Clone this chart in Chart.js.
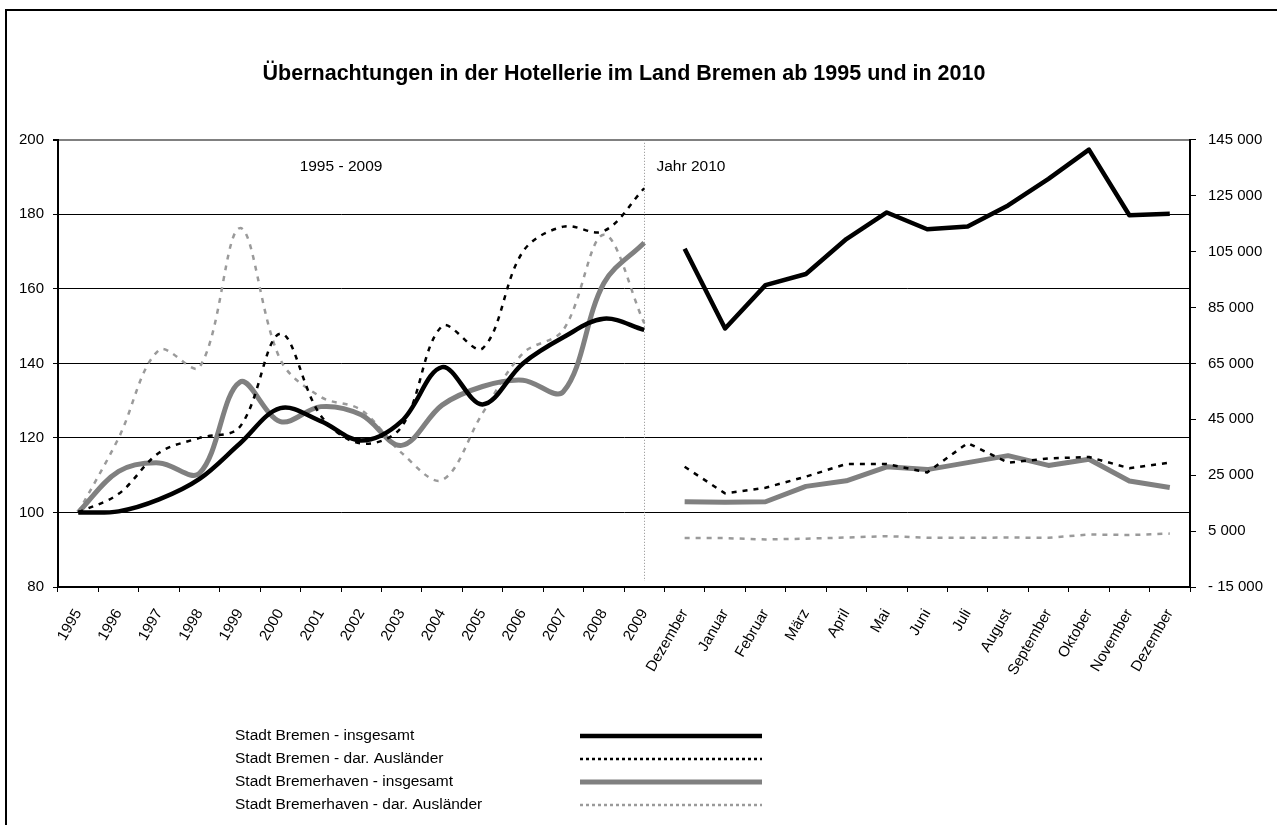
<!DOCTYPE html>
<html>
<head>
<meta charset="utf-8">
<script src="https://cdn.jsdelivr.net/npm/chart.js@4.4.0/dist/chart.umd.min.js"></script>
<style>
  html, body { margin: 0; padding: 0; background: #fff; overflow: hidden; }
  #wrap { position: relative; width: 1277px; height: 825px; }
  #frame { position: absolute; left: 5px; top: 9px; width: 1300px; height: 900px;
           border-left: 2px solid #000; border-top: 2px solid #000; pointer-events: none; }
</style>
</head>
<body>
<div id="wrap">
  <canvas id="chart" width="1277" height="825"></canvas>
  <div id="frame"></div>
</div>
<script>
// categories
const years = ["1995", "1996", "1997", "1998", "1999", "2000", "2001", "2002",
               "2003", "2004", "2005", "2006", "2007", "2008", "2009"];
const months = ["Dezember", "Januar", "Februar", "März", "April", "Mai", "Juni",
                "Juli", "August", "September", "Oktober", "November", "Dezember"];

// 1995 - 2009, index 1995 = 100 (left axis)
const bremenTotalIdx = [100, 100.3, 103.5, 109, 118.5, 128, 124.5, 119.3, 124.5, 139, 129, 140, 147, 152, 149];
const bremenForeignIdx = [100, 105, 116, 120, 123, 148, 126, 118.5, 123, 150, 144, 170, 176.7, 175.5, 187];
const bhvTotalIdx = [100, 111, 113.3, 110.5, 135, 124.4, 128.4, 126.2, 118, 128.8, 133.8, 135.5, 132.4, 161.5, 172.4];
const bhvForeignIdx = [100, 120, 143.6, 139, 176.3, 141, 131, 127.5, 116, 108.7, 126.6, 142.7, 149, 174.5, 150.8];

// Dezember 2009 - Dezember 2010, Übernachtungen (right axis)
const bremenTotalMonth = [106000, 77500, 93000, 97000, 109500, 119000, 113000, 114000, 121500, 131000, 141500, 118000, 118500];
const bremenForeignMonth = [28000, 18500, 20500, 24500, 29000, 29000, 26000, 36500, 29500, 31000, 31500, 27500, 29500];
const bhvTotalMonth = [15500, 15300, 15500, 21000, 23000, 28000, 27000, 29500, 32000, 28500, 30700, 22900, 20600];
const bhvForeignMonth = [2500, 2500, 2000, 2300, 2700, 3200, 2600, 2600, 2700, 2600, 3800, 3600, 4100];

const seriesNames = ["Stadt Bremen - insgesamt", "Stadt Bremen - dar. Ausländer",
                     "Stadt Bremerhaven - insgesamt", "Stadt Bremerhaven - dar. Ausländer"];

const labels = years.concat(months);
const gapLeft = years.map(() => null);
const gapRight = months.map(() => null);

const styles = [
  { borderColor: "#000000", borderWidth: 4.5, borderDash: [] },
  { borderColor: "#000000", borderWidth: 2.5, borderDash: [5, 6] },
  { borderColor: "#808080", borderWidth: 5, borderDash: [] },
  { borderColor: "#9a9a9a", borderWidth: 2.5, borderDash: [5, 6] },
];
const legendDash = [[], [3, 3], [], [3, 3]];

const idxSeries = [bremenTotalIdx, bremenForeignIdx, bhvTotalIdx, bhvForeignIdx];
const monthSeries = [bremenTotalMonth, bremenForeignMonth, bhvTotalMonth, bhvForeignMonth];

const datasets = [];
idxSeries.forEach((vals, i) => {
  datasets.push(Object.assign({
    label: seriesNames[i],
    data: vals.concat(gapRight),
    yAxisID: "y",
    tension: 0.35,
    pointRadius: 0,
    borderJoinStyle: "round",
    legendDash: legendDash[i],
  }, styles[i]));
});
monthSeries.forEach((vals, i) => {
  datasets.push(Object.assign({
    label: seriesNames[i],
    data: gapLeft.concat(vals),
    yAxisID: "y2",
    tension: 0,
    pointRadius: 0,
    borderJoinStyle: "round",
  }, styles[i]));
});

const fmt = v => (v < 0 ? "- " : "") + Math.abs(v).toString().replace(/\B(?=(\d{3})+(?!\d))/g, " ");

// dotted separator between the two periods + period captions
const periodMarks = {
  id: "periodMarks",
  beforeDatasetsDraw(chart) {
    const { ctx, chartArea, scales } = chart;
    const x = Math.round(scales.x.getPixelForValue(years.length - 1)) + 0.5;
    ctx.save();
    ctx.strokeStyle = "#8c8c8c";
    ctx.lineWidth = 1;
    ctx.setLineDash([1, 2]);
    ctx.beginPath();
    ctx.moveTo(x, chartArea.top);
    ctx.lineTo(x, chartArea.bottom - 6);
    ctx.stroke();
    ctx.setLineDash([]);
    ctx.fillStyle = "#000";
    ctx.font = '15.5px "Liberation Sans", Arial, sans-serif';
    ctx.textBaseline = "middle";
    ctx.textAlign = "center";
    ctx.fillText("1995 - 2009", scales.x.getPixelForValue(6.5), chartArea.top + 27);
    ctx.textAlign = "left";
    ctx.fillText("Jahr 2010", x + 12, chartArea.top + 27);
    ctx.restore();
  }
};

// legend: text on the left, line sample on the right
const rowLegend = {
  id: "rowLegend",
  afterDraw(chart, args, opts) {
    const ctx = chart.ctx;
    ctx.save();
    ctx.font = opts.font;
    ctx.textBaseline = "middle";
    ctx.fillStyle = "#000";
    chart.data.datasets.slice(0, 4).forEach((ds, i) => {
      const y = opts.top + i * opts.rowHeight;
      ctx.fillText(ds.label, opts.textX, y);
      ctx.beginPath();
      ctx.setLineDash(ds.legendDash);
      ctx.lineWidth = ds.borderWidth;
      ctx.strokeStyle = ds.borderColor;
      ctx.moveTo(opts.lineX1, y);
      ctx.lineTo(opts.lineX2, y);
      ctx.stroke();
    });
    ctx.restore();
  }
};

Chart.defaults.font.family = '"Liberation Sans", Arial, sans-serif';
Chart.defaults.font.size = 15;
Chart.defaults.color = "#000";

new Chart(document.getElementById("chart"), {
  type: "line",
  data: { labels: labels, datasets: datasets },
  plugins: [periodMarks, rowLegend],
  options: {
    responsive: false,
    animation: false,
    layout: { padding: 0 },
    plugins: {
      legend: { display: false },
      tooltip: { enabled: false },
      title: {
        display: true,
        fullSize: false,
        text: "Übernachtungen in der Hotellerie im Land Bremen ab 1995 und in 2010",
        font: { size: 21.5, weight: "bold" },
        color: "#000",
        padding: { top: 61, bottom: 53 },
      },
      rowLegend: {
        font: '15.5px "Liberation Sans", Arial, sans-serif',
        top: 736, rowHeight: 23, textX: 235, lineX1: 580, lineX2: 762,
      },
    },
    scales: {
      x: {
        offset: true,
        grid: { drawOnChartArea: false, drawTicks: true, tickLength: 5, color: "#000", offset: true },
        border: { color: "#000", width: 2 },
        ticks: { autoSkip: false, minRotation: 60, maxRotation: 60, padding: 14 },
        afterFit: s => { s.height = 238; },
      },
      y: {
        position: "left",
        min: 80, max: 200,
        ticks: { stepSize: 20, padding: 9 },
        grid: {
          color: c => c.tick && c.tick.value === 200 ? "#808080" : "#000",
          lineWidth: c => c.tick && c.tick.value === 200 ? 2 : 1,
          tickColor: "#000", tickLength: 5,
        },
        border: { color: "#000", width: 2 },
        afterFit: s => { s.width = 58; },
      },
      y2: {
        position: "right",
        min: -15000, max: 145000,
        ticks: { stepSize: 20000, padding: 12, callback: fmt },
        grid: { drawOnChartArea: false, tickLength: 6, color: "#000" },
        border: { color: "#000", width: 2 },
        afterFit: s => { s.width = 87; },
      },
    },
  },
});
</script>
</body>
</html>
